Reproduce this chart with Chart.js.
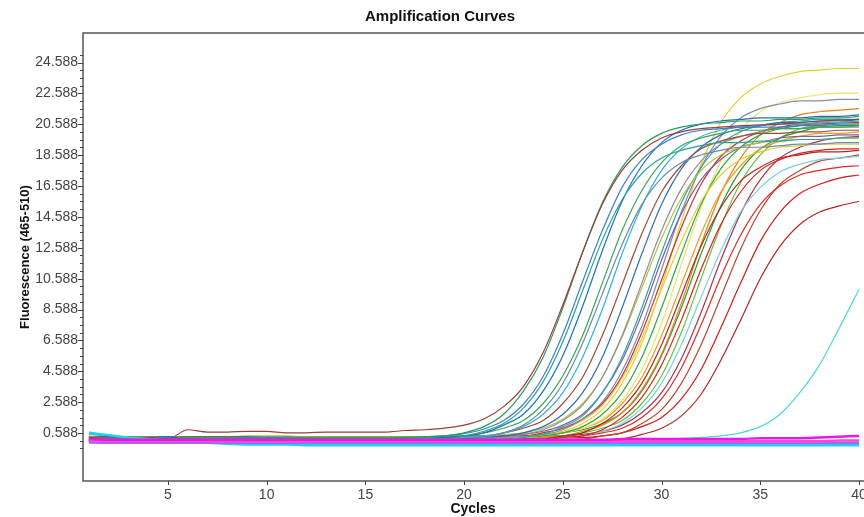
<!DOCTYPE html>
<html>
<head>
<meta charset="utf-8">
<script src="https://cdn.jsdelivr.net/npm/chart.js@4.4.1/dist/chart.umd.min.js"></script>
<style>
  html, body { margin: 0; padding: 0; background: #fff; }
  #wrap { width: 864px; height: 517px; }
</style>
</head>
<body>
<div id="wrap"><canvas id="amp" width="864" height="517"></canvas></div>
<script>
const cycles = [1,2,3,4,5,6,7,8,9,10,11,12,13,14,15,16,17,18,19,20,21,22,23,24,25,26,27,28,29,30,31,32,33,34,35,36,37,38,39,40];
const xTickValues = [5, 10, 15, 20, 25, 30, 35, 40];
const yTickLabels = [0.588, 2.588, 4.588, 6.588, 8.588, 10.588, 12.588, 14.588, 16.588, 18.588, 20.588, 22.588, 24.588];

// fluorescence per cycle, one array per well
const A1 = [0.3,0.35,0.3,0.3,0.2, 0.8,0.65,0.65,0.7,0.7, 0.6,0.6,0.65,0.65,0.65, 0.65,0.75,0.8,0.9,1.1, 1.5,2.3,3.6,5.8,8.9, 12.3,15.4,17.6,18.9,19.7, 20.1,20.3,20.4,20.5,20.55, 20.6,20.7,20.8,20.85,20.9];
const A2 = [0.1,0.25,0.2,0.2,0.2, 0.2,0.2,0.2,0.2,0.25, 0.25,0.25,0.2,0.2,0.2, 0.2,0.3,0.3,0.4,0.6, 1.0,1.8,3.3,5.5,8.7, 12.3,15.5,17.8,19.2,20.0, 20.4,20.6,20.7,20.8,20.8, 20.9,20.9,21.0,21.0,21.1];
const A3 = [0.2,0.3,0.25,0.3,0.25, 0.25,0.25,0.25,0.3,0.3, 0.3,0.25,0.25,0.25,0.25, 0.25,0.25,0.3,0.4,0.55, 0.85,1.4,2.45,4.25,7.0, 10.4,13.7,16.5,18.3,19.3, 19.9,20.2,20.3,20.4,20.4, 20.4,20.5,20.5,20.6,20.6];
const A4 = [0.0,0.1,0.1,0.15,0.1, 0.1,0.1,0.1,0.1,0.1, 0.05,0.05,0.1,0.1,0.1, 0.1,0.1,0.2,0.2,0.4, 0.7,1.2,2.2,3.9,6.5, 9.8,13.1,15.7,17.4,18.4, 18.9,19.2,19.4,19.4,19.5, 19.5,19.6,19.6,19.7,19.7];
const A5 = [0.2,0.2,0.25,0.3,0.35, 0.2,0.2,0.2,0.2,0.2, 0.2,0.2,0.2,0.2,0.2, 0.2,0.25,0.3,0.3,0.4, 0.6,1.1,1.8,3.3,5.6, 8.8,12.4,15.6,17.9,19.4, 20.2,20.6,20.8,20.9,21.0, 21.0,21.0,21.1,21.1,21.2];
const A6 = [0.3,0.3,0.3,0.3,0.3, 0.3,0.3,0.3,0.3,0.3, 0.3,0.3,0.3,0.3,0.3, 0.3,0.3,0.35,0.4,0.4, 0.6,0.9,1.4,2.5,4.3, 6.9,10.3,13.7,16.3,18.1, 19.2,19.7,20.0,20.2,20.2, 20.3,20.3,20.4,20.4,20.5];
const A7 = [0.1,0.05,0.0,0.0,0.0, 0.0,0.0,0.0,0.0,0.0, 0.0,0.0,0.0,0.0,0.0, 0.0,0.0,0.05,0.1,0.1, 0.3,0.6,1.1,2.1,3.8, 6.4,9.6,12.8,15.4,17.1, 18.1,18.6,18.9,19.1,19.1, 19.2,19.3,19.3,19.4,19.4];
const A8 = [0.5,0.4,0.3,0.25,0.2, 0.2,0.2,0.2,0.2,0.2, 0.2,0.2,0.2,0.2,0.2, 0.2,0.2,0.25,0.3,0.3, 0.4,0.6,1.0,1.8,3.2, 5.5,8.6,12.2,15.3,17.6, 19.0,19.8,20.2,20.4,20.5, 20.6,20.6,20.7,20.7,20.8];
const B1 = [0.3,0.3,0.3,0.3,0.3, 0.35,0.35,0.35,0.35,0.3, 0.3,0.3,0.3,0.3,0.3, 0.3,0.3,0.3,0.3,0.4, 0.4,0.6,0.9,1.4,2.5, 4.2,6.9,10.2,13.5,16.2, 17.9,19.0,19.5,19.8,20.0, 20.0,20.1,20.1,20.2,20.2];
const B2 = [0.15,0.15,0.15,0.15,0.15, 0.15,0.15,0.15,0.15,0.15, 0.15,0.15,0.15,0.15,0.15, 0.15,0.15,0.15,0.15,0.2, 0.3,0.4,0.6,1.0,1.8, 3.2,5.5,8.7,12.2,15.4, 17.7,19.1,19.9,20.3,20.5, 20.7,20.7,20.8,20.8,20.9];
const B3 = [0.2,0.2,0.2,0.2,0.2, 0.2,0.2,0.2,0.2,0.2, 0.2,0.2,0.2,0.2,0.2, 0.2,0.2,0.2,0.2,0.2, 0.3,0.3,0.5,0.8,1.4, 2.4,4.2,6.9,10.3,13.7, 16.4,18.2,19.3,19.8,20.1, 20.3,20.3,20.4,20.4,20.4];
const B4 = [0.35,0.35,0.35,0.35,0.35, 0.35,0.35,0.35,0.4,0.4, 0.4,0.35,0.35,0.35,0.35, 0.35,0.35,0.35,0.35,0.35, 0.4,0.5,0.6,0.9,1.5, 2.5,4.2,6.8,10.0,13.2, 15.8,17.6,18.6,19.1,19.4, 19.5,19.6,19.6,19.7,19.7];
const B5 = [0.1,0.1,0.1,0.1,0.1, 0.1,0.1,0.1,0.1,0.1, 0.1,0.1,0.1,0.1,0.1, 0.1,0.1,0.1,0.1,0.1, 0.2,0.2,0.3,0.5,1.0, 1.7,3.2,5.5,8.7,12.3, 15.5,17.8,19.3,20.1,20.5, 20.7,20.8,20.9,20.9,20.9];
const B6 = [0.25,0.25,0.25,0.25,0.25, 0.25,0.25,0.25,0.25,0.25, 0.2,0.2,0.2,0.25,0.25, 0.25,0.25,0.25,0.25,0.25, 0.3,0.4,0.5,0.7,1.1, 1.8,3.2,5.3,8.3,11.8, 14.8,17.0,18.3,19.1,19.4, 19.7,19.8,19.8,19.9,19.9];
const B7 = [0.2,0.2,0.2,0.2,0.2, 0.2,0.2,0.2,0.2,0.2, 0.2,0.2,0.2,0.2,0.2, 0.2,0.2,0.2,0.2,0.2, 0.2,0.3,0.35,0.5,0.8, 1.5,2.6,4.6,7.5,11.2, 14.9,17.8,19.8,21.0,21.6, 21.9,22.1,22.1,22.2,22.2];
const B8 = [0.1,0.2,0.25,0.3,0.3, 0.3,0.3,0.3,0.3,0.3, 0.3,0.3,0.3,0.3,0.3, 0.3,0.3,0.3,0.3,0.3, 0.3,0.4,0.4,0.6,0.9, 1.5,2.5,4.3,7.1,10.5, 13.9,16.7,18.5,19.5,20.1, 20.4,20.6,20.6,20.7,20.7];
const C1 = [0.3,0.3,0.3,0.3,0.3, 0.35,0.35,0.35,0.35,0.35, 0.35,0.35,0.35,0.35,0.35, 0.35,0.35,0.35,0.35,0.35, 0.35,0.4,0.5,0.6,0.9, 1.4,2.4,4.1,6.7,9.9, 13.0,15.6,17.3,18.3,18.8, 19.1,19.2,19.3,19.3,19.3];
const C2 = [0.2,0.2,0.2,0.2,0.2, 0.2,0.2,0.2,0.2,0.2, 0.2,0.2,0.2,0.2,0.2, 0.2,0.2,0.2,0.2,0.2, 0.2,0.3,0.3,0.5,0.7, 1.2,2.1,3.8,6.4,10.1, 14.3,18.0,20.7,22.3,23.2, 23.7,24.0,24.1,24.2,24.2];
const C3 = [0.15,0.15,0.15,0.15,0.15, 0.15,0.15,0.15,0.15,0.15, 0.15,0.15,0.15,0.15,0.15, 0.15,0.15,0.15,0.15,0.15, 0.15,0.2,0.3,0.4,0.6, 1.0,1.8,3.2,5.5,8.7, 12.2,15.4,17.7,19.1,19.9, 20.3,20.5,20.7,20.7,20.7];
const C4 = [0.25,0.25,0.25,0.25,0.25, 0.25,0.25,0.25,0.25,0.25, 0.25,0.25,0.25,0.25,0.25, 0.25,0.25,0.25,0.25,0.25, 0.25,0.25,0.3,0.4,0.6, 0.9,1.5,2.7,4.7,7.7, 11.5,15.2,18.2,20.2,21.4, 22.0,22.3,22.5,22.6,22.6];
const C5 = [0.3,0.3,0.3,0.3,0.3, 0.3,0.3,0.3,0.3,0.3, 0.3,0.3,0.3,0.3,0.3, 0.3,0.3,0.3,0.3,0.3, 0.3,0.3,0.4,0.4,0.6, 0.9,1.4,2.5,4.2,6.9, 10.2,13.5,16.2,17.9,19.0, 19.5,19.8,20.0,20.0,20.1];
const C6 = [0.1,0.1,0.1,0.1,0.1, 0.1,0.1,0.1,0.1,0.1, 0.1,0.1,0.1,0.1,0.1, 0.1,0.1,0.1,0.1,0.1, 0.1,0.1,0.2,0.2,0.4, 0.6,1.2,2.2,3.8,6.3, 9.5,12.7,15.2,16.9,17.8, 18.4,18.6,18.8,18.8,18.9];
const C7 = [0.2,0.2,0.2,0.2,0.2, 0.2,0.2,0.2,0.2,0.2, 0.2,0.2,0.2,0.2,0.2, 0.2,0.2,0.2,0.2,0.2, 0.2,0.2,0.3,0.3,0.4, 0.7,1.1,1.9,3.4,5.7, 9.0,12.8,16.1,18.4,19.9, 20.7,21.2,21.4,21.5,21.6];
const C8 = [0.35,0.35,0.35,0.35,0.35, 0.35,0.35,0.35,0.35,0.35, 0.35,0.35,0.35,0.35,0.35, 0.35,0.35,0.35,0.35,0.35, 0.35,0.35,0.4,0.5,0.6, 0.8,1.2,1.9,3.3,5.6, 8.7,12.2,15.3,17.6,19.0, 19.7,20.1,20.4,20.5,20.5];
const D1 = [-0.05,0.0,0.05,0.05,0.05, 0.05,0.05,0.05,0.05,0.05, 0.05,0.05,0.05,0.05,0.05, 0.05,0.05,0.05,0.05,0.05, 0.05,0.05,0.1,0.1,0.3, 0.4,0.8,1.6,2.9,5.0, 7.9,11.2,14.1,16.2,17.6, 18.3,18.7,18.9,19.0,19.0];
const D2 = [0.25,0.25,0.25,0.25,0.25, 0.25,0.25,0.25,0.25,0.25, 0.25,0.25,0.25,0.25,0.25, 0.25,0.25,0.25,0.25,0.25, 0.25,0.25,0.25,0.3,0.4, 0.6,0.9,1.4,2.5,4.3, 7.1,10.6,14.0,16.8,18.6, 19.7,20.3,20.5,20.7,20.8];
const D3 = [0.15,0.15,0.15,0.15,0.15, 0.15,0.15,0.15,0.15,0.15, 0.15,0.15,0.15,0.15,0.15, 0.15,0.15,0.15,0.15,0.15, 0.15,0.15,0.15,0.2,0.3, 0.4,0.7,1.2,2.2,3.8, 6.3,9.4,12.4,14.9,16.5, 17.5,18.0,18.3,18.4,18.5];
const D4 = [0.3,0.3,0.3,0.3,0.3, 0.3,0.3,0.3,0.3,0.3, 0.3,0.3,0.3,0.3,0.3, 0.3,0.3,0.3,0.3,0.3, 0.3,0.3,0.3,0.4,0.4, 0.5,0.7,1.1,1.9,3.2, 5.4,8.4,11.8,14.8,17.0, 18.4,19.1,19.5,19.7,19.8];
const D5 = [0.2,0.2,0.2,0.2,0.2, 0.2,0.2,0.2,0.2,0.2, 0.2,0.2,0.2,0.2,0.2, 0.2,0.2,0.2,0.2,0.2, 0.2,0.2,0.2,0.3,0.3, 0.4,0.6,0.9,1.6,2.8, 4.8,7.6,10.7,13.4,15.4, 16.6,17.3,17.6,17.8,17.9];
const D6 = [0.1,0.1,0.1,0.1,0.1, 0.1,0.1,0.1,0.1,0.1, 0.1,0.1,0.1,0.1,0.1, 0.1,0.1,0.1,0.1,0.1, 0.1,0.1,0.1,0.1,0.2, 0.2,0.4,0.6,1.2,2.1, 3.8,6.3,9.4,12.5,15.0, 16.7,17.6,18.2,18.4,18.6];
const D7 = [0.25,0.25,0.25,0.25,0.25, 0.25,0.25,0.25,0.25,0.25, 0.25,0.25,0.25,0.25,0.25, 0.25,0.25,0.25,0.25,0.25, 0.25,0.25,0.25,0.25,0.3, 0.3,0.4,0.6,1.0,1.6, 2.8,4.7,7.4,10.3,13.0, 14.9,16.1,16.7,17.1,17.3];
const D8 = [0.0,0.0,0.0,0.0,0.0, 0.0,0.0,0.0,0.0,0.0, 0.0,0.0,0.0,0.0,0.0, 0.0,0.0,0.0,0.0,0.0, 0.0,0.0,0.0,0.0,0.0, 0.1,0.1,0.2,0.5,0.9, 1.7,3.1,5.3,7.9,10.6, 12.7,14.1,14.9,15.3,15.6];
const E1 = [0.3,0.2,0.15,0.1,0.1, 0.1,0.1,0.1,0.1,0.1, 0.1,0.1,0.1,0.1,0.1, 0.1,0.1,0.1,0.1,0.1, 0.1,0.15,0.15,0.15,0.15, 0.15,0.15,0.2,0.2,0.2, 0.25,0.3,0.4,0.6,1.0, 1.8,3.2,5.0,7.4,9.9];
// negative controls
const N1 = [0.2,0.15,0.15,0.15,0.15, 0.15,0.15,0.15,0.15,0.15, 0.15,0.15,0.15,0.15,0.15, 0.15,0.15,0.15,0.15,0.15, 0.15,0.15,0.15,0.15,0.15, 0.15,0.15,0.2,0.2,0.2, 0.2,0.2,0.2,0.2,0.25, 0.25,0.25,0.3,0.35,0.4];
const N2 = [0.1,0.05,0.05,0.05,0.05, 0.05,0.05,0.05,0.05,0.05, 0.05,0.05,0.05,0.05,0.05, 0.05,0.05,0.05,0.05,0.05, 0.05,0.05,0.05,0.05,0.05, 0.05,0.05,0.05,0.05,0.05, 0.05,0.05,0.05,0.05,0.05, 0.05,0.05,0.05,0.1,0.1];
const N3 = [0.0,-0.05,-0.05,-0.05,-0.05, -0.05,-0.05,-0.05,-0.05,-0.05, -0.05,-0.05,-0.05,-0.05,-0.05, -0.05,-0.05,-0.05,-0.05,-0.05, -0.05,-0.05,-0.05,-0.05,-0.05, -0.05,-0.05,-0.05,-0.05,-0.05, -0.05,-0.05,-0.05,-0.05,-0.05, -0.05,-0.05,-0.05,-0.05,-0.05];
const N4 = [0.6,0.45,0.3,0.2,0.1, 0.0,-0.05,-0.1,-0.15,-0.15, -0.15,-0.2,-0.2,-0.2,-0.2, -0.2,-0.2,-0.2,-0.2,-0.2, -0.2,-0.2,-0.2,-0.2,-0.2, -0.2,-0.2,-0.2,-0.2,-0.2, -0.2,-0.2,-0.2,-0.2,-0.2, -0.2,-0.2,-0.2,-0.2,-0.2];
const N5 = [0.05,0.0,0.0,0.0,0.0, 0.0,0.0,0.0,0.0,0.0, 0.0,0.0,0.0,0.0,0.0, -0.1,-0.1,-0.1,-0.1,-0.1, -0.1,-0.1,-0.1,-0.1,-0.1, -0.1,-0.1,-0.1,-0.1,-0.1, -0.1,-0.1,-0.1,-0.1,-0.1, -0.1,-0.1,-0.1,-0.1,-0.1];

const negatives = [N1, N2, N3, N4, N5];
const negativeColors = ["#e619e6", "#ff44dd", "#9d6bf0", "#1fd0ea", "#7a55d8"];
const samples = [A1, A2, A3, A4, A5, A6, A7, A8, B1, B2, B3, B4, B5, B6, B7, B8,
                 C1, C2, C3, C4, C5, C6, C7, C8, D1, D2, D3, D4, D5, D6, D7, D8, E1];
const sampleColors = [
  "#9b3d3d", "#2e9a5e", "#3b82c4", "#27a39a", "#1f6fc0", "#3aa655", "#6a8bb0", "#35b0d5",
  "#9a4d3c", "#2c6db4", "#8e8e9e", "#b7c23d", "#33a3a8", "#7d5fa6", "#7f8fa6", "#c82f2f",
  "#e3cc3a", "#e6cf2c", "#2eaa3c", "#efe06a", "#ef9b1f", "#a62b2b", "#e77f1c", "#2a9e2a",
  "#dc1f1f", "#63c23f", "#79cfe6", "#a8384c", "#e02a2a", "#b34a31", "#d11b1b", "#b02626",
  "#4fd6d6"
];

function toPoints(arr) {
  return arr.map((v, i) => ({ x: cycles[i], y: v }));
}

const datasets = [];
negatives.forEach((arr, i) => {
  datasets.push({ data: toPoints(arr), borderColor: negativeColors[i], borderWidth: 2.5 });
});
samples.forEach((arr, i) => {
  datasets.push({ data: toPoints(arr), borderColor: sampleColors[i], borderWidth: 1.2 });
});

// frame, tick marks, titles
const decor = {
  id: "decor",
  afterDraw(chart) {
    const ctx = chart.ctx;
    const a = chart.chartArea;
    const xs = chart.scales.x, ys = chart.scales.y;
    ctx.save();
    ctx.strokeStyle = "#555";
    ctx.lineWidth = 1.5;
    ctx.beginPath();
    ctx.moveTo(chart.width, a.top);
    ctx.lineTo(a.left, a.top);
    ctx.lineTo(a.left, a.bottom);
    ctx.lineTo(chart.width, a.bottom);
    ctx.stroke();

    ctx.lineWidth = 1;
    ctx.strokeStyle = "#444";
    ctx.beginPath();
    ys.ticks.forEach(t => {
      const y = Math.round(ys.getPixelForValue(t.value)) + 0.5;
      const len = yTickLabels.includes(t.value) ? 5 : 3;
      ctx.moveTo(a.left - len, y);
      ctx.lineTo(a.left, y);
    });
    xs.ticks.forEach(t => {
      const x = Math.round(xs.getPixelForValue(t.value)) + 0.5;
      ctx.moveTo(x, a.bottom);
      ctx.lineTo(x, a.bottom + 4);
    });
    ctx.stroke();

    ctx.fillStyle = "#111";
    ctx.textAlign = "center";
    ctx.textBaseline = "middle";
    ctx.font = "bold 15px 'Liberation Sans', Arial, sans-serif";
    ctx.fillText("Amplification Curves", 440, 17);
    ctx.font = "bold 14px 'Liberation Sans', Arial, sans-serif";
    ctx.fillText("Cycles", (a.left + a.right) / 2, 509);
    ctx.translate(25, (a.top + a.bottom) / 2);
    ctx.rotate(-Math.PI / 2);
    ctx.font = "bold 13px 'Liberation Sans', Arial, sans-serif";
    ctx.fillText("Fluorescence (465-510)", 0, 0);
    ctx.restore();
  }
};

new Chart(document.getElementById("amp"), {
  type: "line",
  data: { datasets },
  options: {
    responsive: false,
    animation: false,
    devicePixelRatio: 1,
    layout: { padding: { top: 33, right: 1, left: 0, bottom: 0 } },
    elements: {
      point: { radius: 0 },
      line: { tension: 0.4, cubicInterpolationMode: "monotone", fill: false }
    },
    plugins: { legend: { display: false }, tooltip: { enabled: false } },
    scales: {
      x: {
        type: "linear",
        min: 0.7,
        max: 40.2,
        afterBuildTicks: s => { s.ticks = xTickValues.map(v => ({ value: v })); },
        afterFit: s => { s.height = 36; s.paddingLeft = 0; s.paddingRight = 0; },
        grid: { display: false, drawTicks: false },
        border: { display: false },
        ticks: {
          padding: 6,
          autoSkip: false,
          maxRotation: 0,
          color: "#444",
          font: { family: "'Liberation Sans', Arial, sans-serif", size: 14 }
        }
      },
      y: {
        type: "linear",
        min: -2.52,
        max: 26.5,
        afterBuildTicks: s => {
          const t = [];
          for (let v = -0.412; v < 25.2; v += 0.5) t.push({ value: Math.round(v * 1000) / 1000 });
          s.ticks = t;
        },
        afterFit: s => { s.width = 83; s.paddingTop = 0; s.paddingBottom = 0; },
        grid: { display: false, drawTicks: false },
        border: { display: false },
        ticks: {
          padding: 5,
          autoSkip: false,
          color: "#444",
          font: { family: "'Liberation Sans', Arial, sans-serif", size: 14 },
          callback: v => yTickLabels.includes(v) ? v.toFixed(3) : ""
        }
      }
    }
  },
  plugins: [decor]
});
</script>
</body>
</html>
